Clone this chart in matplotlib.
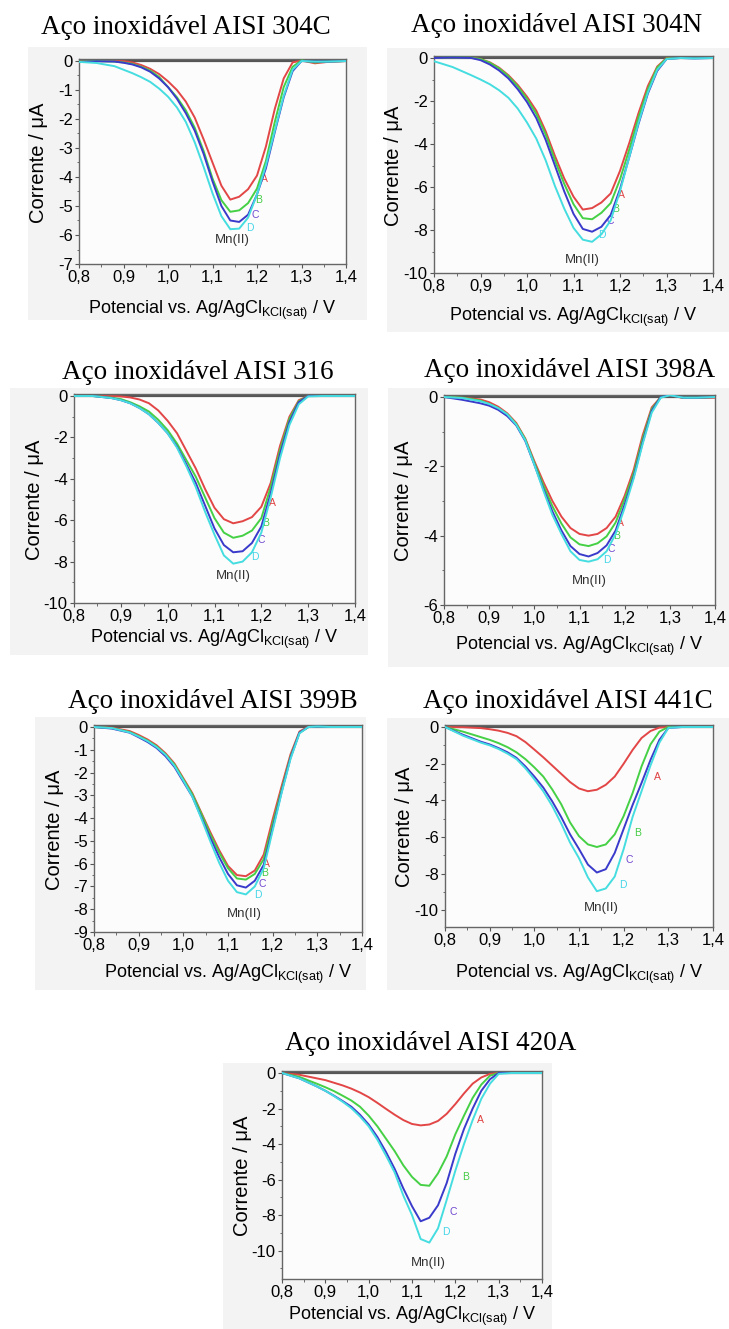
import matplotlib
matplotlib.use("Agg")
import matplotlib.pyplot as plt
from matplotlib.patches import Rectangle
from matplotlib.ticker import MultipleLocator, FuncFormatter

# Potencial (V), mesma grade para todas as curvas
potencial = [0.80, 0.84, 0.88, 0.90, 0.92, 0.94, 0.96, 0.98, 1.00, 1.02, 1.04, 1.06, 1.08, 1.10,
             1.12, 1.14, 1.16, 1.18, 1.20, 1.22, 1.24, 1.26, 1.28, 1.30, 1.33, 1.36, 1.40]

i304C_A = [0.02, 0.01, 0.01, 0.0, -0.05, -0.14, -0.27, -0.45, -0.7, -1.0, -1.4, -1.95, -2.7, -3.5, -4.3, -4.78, -4.68, -4.42, -3.95, -2.95, -1.65, -0.6, -0.05, 0.02, -0.08, -0.03, 0.0]
i304C_B = [-0.02, 0.0, -0.02, -0.05, -0.1, -0.2, -0.33, -0.55, -0.9, -1.25, -1.7, -2.3, -3.1, -4.05, -4.8, -5.2, -5.15, -4.9, -4.4, -3.45, -2.1, -0.9, -0.2, 0.02, -0.05, -0.02, 0.0]
i304C_C = [-0.03, -0.01, -0.02, -0.06, -0.12, -0.22, -0.37, -0.6, -0.9, -1.3, -1.8, -2.4, -3.2, -4.15, -5.0, -5.5, -5.55, -5.3, -4.6, -3.7, -2.45, -1.25, -0.35, 0.0, -0.02, -0.02, 0.0]
i304C_D = [-0.03, -0.07, -0.18, -0.3, -0.42, -0.56, -0.72, -0.95, -1.23, -1.6, -2.1, -2.8, -3.65, -4.56, -5.35, -5.8, -5.78, -5.4, -4.6, -3.6, -2.4, -1.2, -0.3, 0.0, -0.02, -0.02, 0.0]

i304N_A = [0.0, 0.03, 0.02, -0.05, -0.2, -0.45, -0.8, -1.25, -1.8, -2.45, -3.4, -4.55, -5.6, -6.45, -7.05, -6.98, -6.72, -6.3, -5.25, -3.95, -2.55, -1.3, -0.4, 0.0, 0.0, 0.0, 0.0]
i304N_B = [0.0, 0.02, 0.01, -0.05, -0.22, -0.48, -0.85, -1.32, -1.9, -2.6, -3.55, -4.75, -5.85, -6.8, -7.45, -7.5, -7.2, -6.75, -5.65, -4.25, -2.75, -1.45, -0.45, -0.02, 0.0, 0.0, 0.0]
i304N_C = [0.0, 0.02, 0.0, -0.1, -0.3, -0.58, -0.95, -1.45, -2.05, -2.8, -3.8, -5.0, -6.2, -7.25, -7.95, -8.08, -7.85, -7.3, -6.1, -4.6, -3.05, -1.65, -0.6, -0.05, 0.0, -0.02, 0.0]
i304N_D = [-0.15, -0.42, -0.8, -1.0, -1.22, -1.5, -1.85, -2.35, -3.0, -3.75, -4.75, -5.95, -7.0, -7.9, -8.45, -8.55, -8.2, -7.55, -6.2, -4.6, -3.0, -1.6, -0.55, -0.05, 0.0, -0.02, 0.0]

i316_A = [0.0, 0.0, 0.0, -0.02, -0.07, -0.17, -0.35, -0.7, -1.2, -1.8, -2.65, -3.5, -4.5, -5.4, -5.95, -6.15, -6.05, -5.85, -5.35, -4.2, -2.4, -1.0, -0.2, 0.0, 0.0, 0.0, 0.0]
i316_B = [0.0, 0.0, -0.08, -0.15, -0.3, -0.5, -0.75, -1.15, -1.65, -2.3, -3.1, -3.9, -4.9, -5.9, -6.6, -6.85, -6.75, -6.5, -5.9, -4.4, -2.6, -1.1, -0.25, 0.0, 0.0, 0.0, 0.0]
i316_C = [0.0, 0.0, -0.1, -0.2, -0.35, -0.58, -0.88, -1.3, -1.8, -2.45, -3.3, -4.2, -5.3, -6.4, -7.2, -7.55, -7.5, -7.1, -6.3, -4.7, -2.8, -1.25, -0.3, 0.0, 0.0, 0.0, 0.0]
i316_D = [0.0, 0.0, -0.1, -0.2, -0.35, -0.58, -0.88, -1.3, -1.8, -2.5, -3.4, -4.4, -5.6, -6.7, -7.7, -8.1, -8.0, -7.55, -6.6, -4.9, -3.0, -1.4, -0.4, -0.02, 0.0, 0.0, 0.0]

i398A_A = [0.0, -0.02, -0.07, -0.15, -0.28, -0.47, -0.75, -1.2, -1.85, -2.45, -3.0, -3.45, -3.78, -3.95, -4.0, -3.95, -3.78, -3.45, -2.85, -2.1, -1.1, -0.3, 0.0, 0.05, -0.03, -0.03, -0.02]
i398A_B = [0.0, -0.02, -0.1, -0.2, -0.32, -0.5, -0.78, -1.22, -1.9, -2.55, -3.15, -3.65, -4.05, -4.25, -4.3, -4.22, -4.02, -3.62, -2.95, -2.2, -1.2, -0.35, 0.0, 0.05, -0.02, -0.02, 0.0]
i398A_C = [0.0, -0.08, -0.18, -0.25, -0.37, -0.55, -0.82, -1.27, -1.95, -2.65, -3.3, -3.85, -4.3, -4.53, -4.6, -4.5, -4.28, -3.85, -3.1, -2.3, -1.3, -0.4, 0.0, 0.05, -0.02, -0.02, 0.0]
i398A_D = [0.0, -0.03, -0.12, -0.2, -0.32, -0.5, -0.8, -1.25, -1.95, -2.7, -3.4, -3.95, -4.45, -4.7, -4.75, -4.68, -4.45, -3.95, -3.2, -2.35, -1.35, -0.45, -0.02, 0.05, -0.02, -0.02, 0.0]

i399B_A = [0.0, -0.03, -0.18, -0.35, -0.55, -0.8, -1.15, -1.6, -2.25, -2.9, -3.75, -4.6, -5.4, -6.1, -6.5, -6.55, -6.3, -5.6, -4.05, -2.6, -1.2, -0.2, 0.02, 0.02, 0.0, 0.0, 0.0]
i399B_B = [0.0, -0.05, -0.22, -0.4, -0.6, -0.85, -1.2, -1.65, -2.3, -2.95, -3.8, -4.7, -5.5, -6.2, -6.65, -6.7, -6.45, -5.8, -4.25, -2.75, -1.3, -0.25, 0.0, 0.02, 0.0, 0.0, 0.0]
i399B_C = [0.0, -0.07, -0.25, -0.45, -0.66, -0.92, -1.28, -1.75, -2.4, -3.05, -3.95, -4.85, -5.7, -6.45, -6.95, -7.05, -6.75, -6.05, -4.45, -2.85, -1.35, -0.25, 0.0, 0.02, 0.0, 0.0, 0.0]
i399B_D = [0.0, -0.05, -0.24, -0.42, -0.62, -0.88, -1.22, -1.7, -2.35, -3.05, -4.0, -5.0, -5.95, -6.75, -7.25, -7.35, -7.0, -6.2, -4.55, -2.9, -1.4, -0.28, 0.0, 0.02, 0.0, 0.0, 0.0]

i441C_A = [0.0, -0.01, -0.06, -0.12, -0.2, -0.32, -0.5, -0.82, -1.23, -1.65, -2.1, -2.55, -3.0, -3.35, -3.5, -3.42, -3.15, -2.7, -2.0, -1.25, -0.6, -0.22, -0.03, 0.0, 0.0, 0.0, 0.0]
i441C_B = [0.0, -0.25, -0.55, -0.7, -0.88, -1.1, -1.38, -1.75, -2.2, -2.7, -3.4, -4.2, -5.2, -5.95, -6.4, -6.54, -6.4, -5.85, -4.85, -3.6, -2.15, -0.95, -0.25, 0.0, 0.0, 0.0, 0.0]
i441C_C = [0.0, -0.42, -0.8, -0.95, -1.15, -1.38, -1.68, -2.15, -2.7, -3.3, -4.05, -4.9, -5.85, -6.65, -7.5, -7.93, -7.75, -6.86, -5.55, -4.25, -3.05, -1.8, -0.7, -0.05, 0.0, 0.0, 0.0]
i441C_D = [0.0, -0.47, -0.85, -1.0, -1.2, -1.45, -1.75, -2.25, -2.85, -3.5, -4.3, -5.25, -6.3, -7.15, -8.2, -8.95, -8.8, -8.15, -6.65, -4.9, -3.5, -2.1, -0.85, -0.05, 0.0, 0.0, 0.0]

i420A_A = [0.0, -0.1, -0.3, -0.4, -0.55, -0.7, -0.88, -1.1, -1.36, -1.68, -2.02, -2.35, -2.65, -2.87, -2.95, -2.9, -2.7, -2.3, -1.75, -1.15, -0.6, -0.25, -0.05, 0.02, 0.0, 0.0, 0.0]
i420A_B = [0.0, -0.22, -0.6, -0.8, -1.02, -1.28, -1.55, -1.9, -2.4, -3.0, -3.7, -4.4, -5.2, -5.85, -6.3, -6.35, -5.65, -4.7, -3.45, -2.4, -1.4, -0.65, -0.15, 0.0, 0.0, 0.0, 0.0]
i420A_C = [0.0, -0.3, -0.75, -1.0, -1.28, -1.58, -1.9, -2.35, -2.9, -3.6, -4.45, -5.4, -6.5, -7.5, -8.35, -8.15, -7.45, -6.2, -4.55, -3.15, -2.0, -1.0, -0.35, 0.0, 0.0, 0.0, 0.0]
i420A_D = [0.0, -0.3, -0.75, -1.0, -1.3, -1.62, -1.98, -2.45, -3.0, -3.75, -4.65, -5.6, -6.9, -8.0, -9.35, -9.55, -8.75, -7.15, -5.5, -4.0, -2.65, -1.45, -0.6, -0.05, 0.0, 0.0, 0.0]

titulos = ["Aço inoxidável AISI 304C", "Aço inoxidável AISI 304N",
           "Aço inoxidável AISI 316", "Aço inoxidável AISI 398A",
           "Aço inoxidável AISI 399B", "Aço inoxidável AISI 441C",
           "Aço inoxidável AISI 420A"]
correntes = [
    [i304C_A, i304C_B, i304C_C, i304C_D],
    [i304N_A, i304N_B, i304N_C, i304N_D],
    [i316_A, i316_B, i316_C, i316_D],
    [i398A_A, i398A_B, i398A_C, i398A_D],
    [i399B_A, i399B_B, i399B_C, i399B_D],
    [i441C_A, i441C_B, i441C_C, i441C_D],
    [i420A_A, i420A_B, i420A_C, i420A_D],
]
letras = ["A", "B", "C", "D"]
# posição dos rótulos A-D e Mn(II) em coordenadas dos dados
rotulos_xy = [
    [(1.216, -4.07), (1.204, -4.8), (1.196, -5.3), (1.183, -5.75), (1.145, -6.17)],
    [(1.203, -6.35), (1.191, -7.03), (1.178, -7.57), (1.162, -8.24), (1.12, -9.4)],
    [(1.223, -5.15), (1.21, -6.13), (1.2, -6.94), (1.187, -7.78), (1.14, -8.7)],
    [(1.19, -3.63), (1.182, -4.0), (1.171, -4.38), (1.16, -4.71), (1.121, -5.3)],
    [(1.187, -6.0), (1.182, -6.4), (1.176, -6.9), (1.168, -7.36), (1.136, -8.2)],
    [(1.276, -2.73), (1.232, -5.78), (1.213, -7.23), (1.199, -8.62), (1.151, -9.86)],
    [(1.259, -2.62), (1.224, -5.83), (1.195, -7.81), (1.179, -8.94), (1.138, -10.68)],
]

# Layout em pixels: eixo (esq, y0, dir, base), ymin, passos, titulo (x, y), fundo, rótulo x
W, H = 729, 1329
layout = [
    dict(eixo=(79, 61, 346, 264), ymin=-7, maior=1, menor=0.5, tit=(186, 27), fundo=(28, 47, 367, 320), dx=46),
    dict(eixo=(434, 58, 713, 273), ymin=-10, maior=2, menor=1, tit=(557, 25), fundo=(387, 48, 729, 332), dx=44),
    dict(eixo=(74, 396, 355, 603), ymin=-10, maior=2, menor=1, tit=(198, 372), fundo=(10, 388, 368, 655), dx=36),
    dict(eixo=(444, 397, 715, 605), ymin=-6, maior=2, menor=1, tit=(570, 370), fundo=(388, 388, 729, 667), dx=41),
    dict(eixo=(94, 727, 362, 932), ymin=-9, maior=1, menor=0.5, tit=(213, 702), fundo=(35, 717, 366, 990), dx=42),
    dict(eixo=(445, 727, 713, 927), ymin=-10.9, maior=2, menor=1, tit=(568, 702), fundo=(387, 718, 729, 990), dx=47),
    dict(eixo=(282, 1073, 542, 1279), ymin=-11.6, maior=2, menor=1, tit=(431, 1043), fundo=(223, 1063, 552, 1329), dx=37),
]

cores = ["#e24646", "#45d045", "#3a3acb", "#45dde0"]
cores_rot = ["#e04040", "#45cc45", "#7048d0", "#45d5e8"]

plt.rcParams["font.family"] = ["Liberation Sans", "DejaVu Sans"]
plt.rcParams["axes.unicode_minus"] = False
plt.rcParams["mathtext.fontset"] = "custom"
plt.rcParams["mathtext.rm"] = "Liberation Sans"
plt.rcParams["mathtext.it"] = "Liberation Sans:italic"
plt.rcParams["mathtext.bf"] = "Liberation Sans:bold"

fig = plt.figure(figsize=(W / 100, H / 100), dpi=100)
fig.patch.set_facecolor("white")

virgula = FuncFormatter(lambda v, p: f"{v:.1f}".replace(".", ","))

for k in range(7):
    lay = layout[k]
    esq, y0, dir_, base = lay["eixo"]
    px_unid = (base - y0) / (-lay["ymin"])
    topo = y0 - 2
    ytopo = 2 / px_unid

    # fundo cinza claro do painel (atrás dos eixos)
    f = lay["fundo"]
    fig.patches.append(Rectangle((f[0] / W, 1 - f[3] / H), (f[2] - f[0]) / W, (f[3] - f[1]) / H,
                                 transform=fig.transFigure, facecolor="#f3f3f3",
                                 edgecolor="none", zorder=-5))

    ax = fig.add_axes([esq / W, 1 - base / H, (dir_ - esq) / W, (base - topo) / H])
    ax.set_zorder(2)
    ax.set_facecolor("#fcfcfc")
    ax.set_xlim(0.8, 1.4)
    ax.set_ylim(lay["ymin"], ytopo)

    # linha do branco
    ax.plot([0.8, 1.4], [0, 0], color="#555555", lw=1.6, zorder=1)
    for j in range(4):
        ax.plot(potencial, correntes[k][j], color=cores[j], lw=1.4, zorder=2 + j,
                solid_joinstyle="round")

    for j in range(4):
        x, y = rotulos_xy[k][j]
        ax.text(x, y, letras[j], color=cores_rot[j], fontsize=7.5, ha="center", va="center")
    x, y = rotulos_xy[k][4]
    ax.text(x, y, "Mn(II)", color="#333333", fontsize=9.5, ha="center", va="center")

    ax.xaxis.set_major_locator(MultipleLocator(0.1))
    ax.xaxis.set_minor_locator(MultipleLocator(0.05))
    ax.xaxis.set_major_formatter(virgula)
    ax.yaxis.set_major_locator(MultipleLocator(lay["maior"]))
    ax.yaxis.set_minor_locator(MultipleLocator(lay["menor"]))
    ax.yaxis.set_major_formatter(FuncFormatter(lambda v, p: f"{v:.0f}"))
    ax.tick_params(which="major", direction="out", length=3, width=0.8, color="#555555",
                   labelsize=12, pad=1.5, top=False, right=False)
    ax.tick_params(which="minor", direction="out", length=1.8, width=0.6, color="#555555",
                   top=False, right=False)
    for s in ax.spines.values():
        s.set_color("#666666")
        s.set_linewidth(1.0)

    fig.text(lay["tit"][0] / W, 1 - lay["tit"][1] / H, titulos[k],
             family="Liberation Serif", fontsize=19.5, ha="center", va="center")
    fig.text((esq + dir_) / 2 / W, 1 - (base + lay["dx"]) / H,
             r"Potencial vs. Ag/AgCl$_{\mathrm{KCl(sat)}}$ / V",
             fontsize=13, ha="center", va="center")
    fig.text((esq - 40) / W, 1 - (y0 + base) / 2 / H, "Corrente / μA",
             fontsize=14.5, ha="center", va="center", rotation=90)

fig.savefig("out.png", dpi=100)
